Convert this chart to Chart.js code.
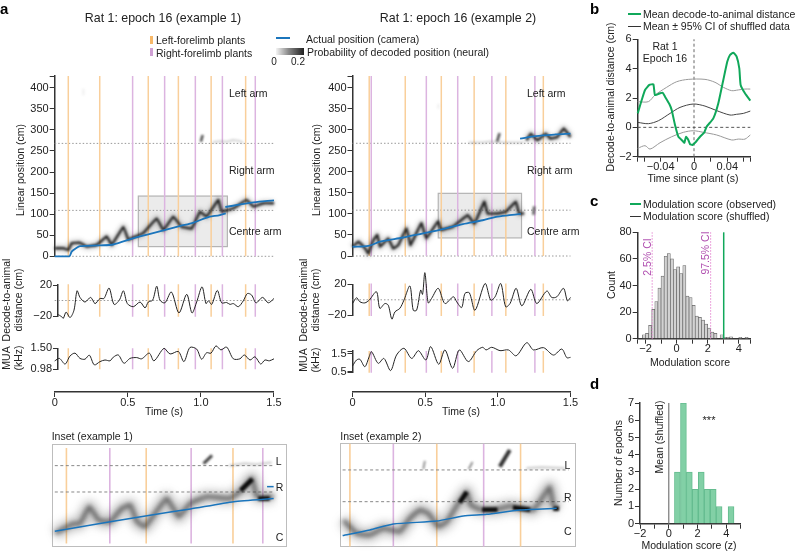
<!DOCTYPE html>
<html>
<head>
<meta charset="utf-8">
<style>
    body { margin: 0; background: #fff; font-family: "Liberation Sans", Arial, sans-serif; color: #222; }
    #page { position: relative; width: 797px; height: 551px; overflow: hidden; }
    #page canvas { position: absolute; left: 0; top: 0; }
    .txt { position: absolute; white-space: nowrap; line-height: 1; }
    .mark { position: absolute; }
</style>
<script src="https://cdn.jsdelivr.net/npm/chart.js@4/dist/chart.umd.min.js"></script>
</head>
<body>
<div id="page"></div>
<script>
// plant times (s)
const leftPlants1 = [0.093, 0.308, 0.64, 0.846, 1.07, 1.306];
const rightPlants1 = [0.533, 0.752, 0.962, 1.147, 1.372];
const leftPlants2 = [0.115, 0.363, 0.611, 0.837, 1.055, 1.313];
const rightPlants2 = [0.129, 0.508, 0.724, 0.959, 1.255];

// arm boundaries and grey boxes [t0, t1, pos0, pos1]
const armLines = [0, 109, 268];
const insetBox1 = [0.572, 1.181, 23, 143];
const insetBox2 = [0.59, 1.163, 43, 149];

// actual position, example 1
const actualTime1 = [0, 0.10, 0.116, 0.146, 0.173, 0.31, 0.40, 0.54, 0.64, 0.77, 0.86, 0.95, 1.04, 1.13, 1.17];
const actualPos1 = [0, 0, 11, 19, 24, 26, 28, 43, 52, 64, 72, 80, 92, 98, 102];
const actualTimeB1 = [1.167, 1.27, 1.36, 1.5];
const actualPosB1 = [117, 123, 128, 133];

// decoded position, example 1
const decodedTime1 = [0, 0.059, 0.093, 0.116, 0.173, 0.219, 0.287, 0.356, 0.39, 0.47, 0.504, 0.538, 0.606, 0.698, 0.743, 0.811, 0.868, 0.937, 0.994, 1.039, 1.119, 1.142, 1.222, 1.313, 1.359, 1.427, 1.5];
const decodedPos1 = [19, 19, 15, 31, 32, 23, 27, 47, 27, 70, 39, 45, 55, 90, 62, 94, 70, 66, 106, 94, 134, 106, 114, 134, 118, 126, 126];
const spikeTime1 = [1.0, 1.012];
const spikePos1 = [272, 288];
const faintTime1 = [1.08, 1.13, 1.18, 1.22, 1.26, 1.29];
const faintPos1 = [271, 273, 272, 276, 274, 270];
const ghostTime1 = [0.196, 0.196];
const ghostPos1 = [382, 398];

// actual position, example 2
const actualTime2 = [0, 0.109, 0.189, 0.349, 0.486, 0.6, 0.759, 0.896, 0.987, 1.078, 1.158];
const actualPos2 = [22, 24, 34, 44, 54, 62, 76, 85, 93, 97, 100];
const actualTimeB2 = [1.153, 1.261, 1.397, 1.5];
const actualPosB2 = [279, 285, 289, 291];

// decoded position, example 2
const decodedTime2 = [0, 0.041, 0.087, 0.109, 0.144, 0.171, 0.189, 0.246, 0.28, 0.315, 0.372, 0.399, 0.474, 0.508, 0.588, 0.611, 0.691, 0.736, 0.793, 0.839, 0.907, 0.93, 0.998, 1.055, 1.124, 1.147, 1.181];
const decodedPos2 = [22, 34, 18, 6, 38, 50, 22, 42, 18, 26, 66, 26, 78, 42, 82, 62, 70, 82, 97, 77, 129, 101, 101, 105, 129, 101, 101];
const decodedTimeB2 = [1.197, 1.226, 1.272, 1.329, 1.363, 1.409, 1.454, 1.5];
const decodedPosB2 = [275, 291, 275, 291, 279, 283, 303, 283];
const spikeTime2 = [0.995, 1.012];
const spikePos2 = [272, 292];
const blobTime2 = [1.245, 1.25];
const blobPos2 = [98, 118];
const faintTime2 = [0.8, 0.9, 0.95, 1.05, 1.13, 1.18];
const faintPos2 = [270, 270, 272, 270, 270, 270];
const ghostTime2 = [0.59, 0.59];
const ghostPos2 = [350, 362];

// decode-to-animal distance
const distTime1 = [0, 0.018, 0.048, 0.059, 0.078, 0.105, 0.132, 0.153, 0.173, 0.207, 0.246, 0.276, 0.31, 0.337, 0.372, 0.406, 0.442, 0.47, 0.497, 0.538, 0.584, 0.618, 0.64, 0.67, 0.698, 0.72, 0.754, 0.798, 0.85, 0.903, 0.939, 0.971, 1.008, 1.035, 1.051, 1.074, 1.112, 1.142, 1.176, 1.199, 1.222, 1.256, 1.29, 1.318, 1.347, 1.377, 1.422, 1.461, 1.5];
const distValue1 = [-20.2, -18, -21, -23, -15, -22, -12.5, 12.5, 4, -2, 4, -4, 2.6, 2.6, 16, -5, 0.4, 12.5, -4, -8, -2, -9.5, -2, 0.4, 18.5, 0.4, -3, 11, -16, 8, -16, -2, 17.6, -4, -0.4, -5, 13, -3, -2.6, -5, -4, -8, -0.4, 9, 7, -3, 4, -3, 2.6];
const distTime2 = [0, 0.028, 0.051, 0.085, 0.115, 0.165, 0.188, 0.223, 0.246, 0.271, 0.292, 0.326, 0.354, 0.395, 0.418, 0.441, 0.469, 0.482, 0.498, 0.521, 0.544, 0.59, 0.636, 0.694, 0.717, 0.751, 0.774, 0.804, 0.843, 0.912, 0.951, 0.981, 1.02, 1.054, 1.084, 1.126, 1.165, 1.227, 1.268, 1.337, 1.371, 1.406, 1.452, 1.479, 1.5];
const distValue2 = [-4.8, 2.6, -2.6, -4, -0.4, 10.4, -11, -4.8, -7, -25, -15.6, -11, -0.4, 17.8, -13.5, -13.5, 12.6, 7, 35, -4, 1.7, 14.8, -4.8, 3.9, -2.6, -10, 8.3, 9, -13.5, 21, -0.4, 3.9, 21, -9, -4.8, 14.8, -7.8, 13.5, -4.8, 11.3, 3, 3.9, 14.8, -1.3, 3];

// multi-unit activity
const muaTime1 = [0, 0.032, 0.071, 0.105, 0.139, 0.173, 0.207, 0.237, 0.271, 0.31, 0.344, 0.378, 0.401, 0.435, 0.474, 0.515, 0.561, 0.595, 0.647, 0.679, 0.748, 0.789, 0.846, 0.884, 0.925, 0.971, 1.005, 1.039, 1.069, 1.103, 1.137, 1.176, 1.222, 1.267, 1.297, 1.336, 1.37, 1.409, 1.438, 1.468, 1.5];
const muaValue1 = [1.187, 1.25, 1.11, 1.31, 1.38, 1.25, 1.23, 1.33, 1.09, 1.17, 1.21, 1.19, 1.28, 1.335, 1.13, 1.25, 1.27, 1.24, 1.38, 1.19, 1.5, 1.36, 1.42, 1.17, 1.52, 1.48, 1.23, 1.39, 1.38, 1.56, 1.46, 1.53, 1.24, 1.24, 1.335, 1.21, 1.29, 1.11, 1.21, 1.19, 1.24];
const muaTime2 = [0, 0.028, 0.051, 0.085, 0.115, 0.131, 0.177, 0.216, 0.262, 0.303, 0.354, 0.407, 0.453, 0.505, 0.538, 0.593, 0.636, 0.689, 0.735, 0.797, 0.855, 0.896, 0.919, 0.958, 1.015, 1.073, 1.126, 1.199, 1.245, 1.314, 1.383, 1.44, 1.475, 1.5];
const muaValue2 = [0.82, 1.16, 1.2, 0.78, 1.35, 1.63, 0.97, 1.25, 0.56, 1.44, 1.82, 1.25, 1.69, 1.16, 1.92, 0.92, 1.73, 0.69, 1.73, 1.07, 1.69, 1.88, 1.73, 1.88, 1.69, 1.73, 1.4, 2.14, 1.73, 1.86, 1.44, 1.78, 1.29, 1.31];

// insets, y in percent of the box height
const insetPlantsLeft1 = [0.64, 0.846, 1.07];
const insetPlantsRight1 = [0.752, 0.962, 1.147];
const insetArms1 = [79, 53.4];
const insetActualTime1 = [0.61, 0.753, 0.848, 0.96, 1.072, 1.175];
const insetActualPos1 = [15.2, 24.6, 30.4, 36.9, 44, 47.2];
const insetActualTimeB1 = [1.158, 1.175];
const insetActualPosB1 = [58.6, 58.6];
const insetDecTime1 = [0.611, 0.658, 0.675, 0.699, 0.723, 0.753, 0.783, 0.805, 0.822, 0.843, 0.878, 0.899, 0.93, 0.96, 1.003, 1.063, 1.093, 1.119, 1.132, 1.175];
const insetDecPos1 = [13.3, 22.6, 22.6, 39, 26.2, 24.6, 37.5, 40.8, 24.6, 19.7, 37.5, 47.2, 29.4, 42.4, 48.9, 47.2, 55.3, 66.7, 48.9, 48.9];
const insetDarkTime1 = [1.09, 1.12];
const insetDarkPos1 = [55, 66];
const insetDarkTimeB1 = [1.135, 1.165];
const insetDarkPosB1 = [47, 47];
const insetSpikeTime1 = [0.994, 1.016];
const insetSpikePos1 = [81, 89];
const insetFaintTime1 = [1.06, 1.1, 1.13, 1.17];
const insetFaintPos1 = [79, 81, 80, 82];

const insetPlantsLeft2 = [0.611, 0.837, 1.055];
const insetPlantsRight2 = [0.724, 0.959];
const insetArms2 = [74.3, 43.7];
const insetActualTime2 = [0.592, 0.663, 0.724, 0.837, 0.906, 0.967, 1.053, 1.149];
const insetActualPos2 = [11, 16.4, 22.2, 25, 29.9, 31.5, 35.7, 37.3];
const insetDecTime2 = [0.594, 0.628, 0.663, 0.698, 0.741, 0.767, 0.793, 0.815, 0.841, 0.863, 0.893, 0.915, 0.925, 0.949, 0.993, 1.028, 1.088, 1.105, 1.131, 1.14, 1.153];
const insetDecPos2 = [26, 13.2, 11.6, 18, 14.8, 27.7, 35.7, 32.5, 19.6, 24.4, 42.1, 53.4, 40.5, 36.3, 36.3, 39.5, 35.7, 43.7, 58.2, 40.5, 37.3];
const insetDarkTime2 = [0.897, 0.915];
const insetDarkPos2 = [43, 53];
const insetDarkTimeB2 = [0.955, 0.995];
const insetDarkPosB2 = [36, 36];
const insetDarkTimeC2 = [1.035, 1.08];
const insetDarkPosC2 = [38, 36];
const insetDarkTimeD2 = [1.14, 1.155];
const insetDarkPosD2 = [37, 37];
const insetSpikeTime2 = [1.001, 1.027];
const insetSpikePos2 = [77.5, 93.6];
const insetSmallTime2 = [0.802, 0.806];
const insetSmallPos2 = [75, 83];
const insetSmallTimeB2 = [0.92, 0.93];
const insetSmallPosB2 = [75, 82];
const insetFaintTime2 = [1.07, 1.11, 1.17];
const insetFaintPos2 = [76, 77, 76];

// panel b
const greenTime = [-0.0676, -0.0628, -0.0588, -0.0536, -0.0488, -0.0468, -0.0408, -0.0376, -0.0348, -0.0296, -0.0268, -0.0228, -0.0188, -0.0168, -0.0128, -0.0116, -0.0096, -0.0068, -0.0048, -0.002, 0.0024, 0.0072, 0.0124, 0.0152, 0.0232, 0.0292, 0.0352, 0.04, 0.0432, 0.0472, 0.0512, 0.0544, 0.056, 0.0612, 0.0676];
const greenValue = [0.95, 1.86, 2.55, 2.89, 2.93, 2.2, 2.32, 2.36, 2.09, 1.59, 1.18, 0.16, -0.64, -0.75, -0.98, -1.05, -0.64, -0.86, -1.14, -1.2, -0.98, -0.64, -0.34, 0.05, 0.61, 1.64, 3.23, 4.48, 4.93, 5.09, 4.82, 4.02, 2.89, 2.32, 1.82];
const upperTime = [-0.0676, -0.0548, -0.0468, -0.0328, -0.0208, -0.0068, 0.0132, 0.0252, 0.0352, 0.0452, 0.0532, 0.0612, 0.0676];
const upperValue = [1.75, 1.75, 2.2, 2.73, 3.11, 3.27, 3.27, 3.07, 2.73, 2.5, 2.55, 2.61, 2.61];
const meanTime = [-0.0676, -0.0548, -0.0428, -0.0288, -0.0168, -0.0008, 0.0132, 0.0272, 0.0432, 0.0512, 0.0592, 0.0676];
const meanValue = [0.34, 0.25, 0.45, 0.95, 1.36, 1.59, 1.45, 1.14, 0.84, 0.89, 0.95, 1.11];
const lowerTime = [-0.0676, -0.0588, -0.0528, -0.0408, -0.0268, -0.0128, -0.0008, 0.0112, 0.0272, 0.0452, 0.0532, 0.0612, 0.0676];
const lowerValue = [-1.43, -1.25, -1.48, -1.05, -0.64, -0.34, -0.23, -0.34, -0.52, -0.86, -0.8, -0.8, -0.52];

// panel c
const shuffledBins = [-2.1, -1.9, -1.7, -1.5, -1.3, -1.1, -0.9, -0.7, -0.5, -0.3, -0.1, 0.1, 0.3, 0.5, 0.7, 0.9, 1.1, 1.3, 1.5, 1.7, 1.9, 2.1, 2.3, 2.5, 2.7, 2.9, 3.1, 3.3, 3.5, 3.7, 3.9, 4.1, 4.3, 4.5];
const shuffledCounts = [3, 4, 10, 22, 28, 38, 47, 62, 64, 60, 52, 54, 49, 55, 32, 31, 25, 17, 16, 14, 11, 8, 5, 4, 0, 3, 1, 1, 1.5, 0, 0, 1, 0, 1];
const observedScore = 3.03;
const ciLow = -1.57;
const ciHigh = 2.19;

// panel d
const epochBins = [0.6, 1.02, 1.43, 1.84, 2.26, 2.67, 3.09, 3.5, 3.91, 4.33];
const epochCounts = [3, 7, 3, 2, 3, 2, 2, 1, 0, 1];

const orange = "#f9cf9b";
const purple = "#dcb4e0";
const blue = "#1b75bc";
const green = "#10a85a";
const page = document.getElementById("page");
const W = 797, H = 551;

const zip = (xs, ys) => xs.map((x, i) => ({ x: x, y: ys[i] }));

function label(str, x, y, opts) {
    opts = opts || {};
    const el = document.createElement("div");
    el.className = "txt";
    el.textContent = str;
    el.style.left = x + "px";
    el.style.top = y + "px";
    el.style.fontSize = (opts.size || 10.5) + "px";
    if (opts.color) el.style.color = opts.color;
    if (opts.bold) el.style.fontWeight = "bold";
    const ax = opts.center || opts.rot ? "-50%" : "0";
    el.style.transform = `translate(${ax},-50%)` + (opts.rot ? ` rotate(${opts.rot}deg)` : "");
    page.appendChild(el);
}

function mark(x, y, w, h, bg) {
    const el = document.createElement("div");
    el.className = "mark";
    el.style.cssText = `left:${x}px;top:${y}px;width:${w}px;height:${h}px;background:${bg}`;
    page.appendChild(el);
}

function line(points, color, width, extra) {
    return Object.assign({
        type: "scatter",
        data: points,
        showLine: true,
        pointRadius: 0,
        borderColor: color,
        backgroundColor: color,
        borderWidth: width,
        spanGaps: false,
        clip: false
    }, extra || {});
}

// vertical plant markers, one broken line per group
function plantLine(times, yMin, yMax, color, width) {
    const pts = [];
    times.forEach(t => {
        pts.push({ x: t, y: yMin }, { x: t, y: yMax }, { x: t, y: null });
    });
    return line(pts, color, width || 1.5);
}

function flatLine(xMin, xMax, y, color, dash, width) {
    return line([{ x: xMin, y: y }, { x: xMax, y: y }], color, width || 1, { borderDash: dash });
}

// blurred core and halo stand in for the probability cloud
function decoded(times, values) {
    const pts = zip(times, values);
    return [
        line(pts, "rgba(20,20,20,0.9)", 2.4, { blur: 0.9, tension: 0.06, borderJoinStyle: "round" }),
        line(pts, "rgba(70,70,70,0.28)", 6.5, { blur: 2.2, tension: 0.06, borderJoinStyle: "round" })
    ];
}

// softer version for the insets, dark stretches are added on top
function insetCloud(times, values) {
    const pts = zip(times, values);
    return [
        line(pts, "rgba(40,40,40,0.6)", 4, { blur: 2.2, tension: 0.1, borderJoinStyle: "round" }),
        line(pts, "rgba(80,80,80,0.35)", 13, { blur: 4, tension: 0.1, borderJoinStyle: "round" })
    ];
}

const darkPatch = (times, values, width) => line(zip(times, values), "#0c0c0c", width || 4.5, { blur: 1.1 });

const blurPlugin = {
    id: "blurPlugin",
    beforeDatasetDraw(chart, args) {
        const ds = chart.data.datasets[args.index];
        chart.ctx.save();
        if (ds.blur) chart.ctx.filter = `blur(${ds.blur}px)`;
    },
    afterDatasetDraw(chart) {
        chart.ctx.restore();
    }
};

// grey zoom box drawn through the scales
const boxPlugin = {
    id: "boxPlugin",
    beforeDatasetsDraw(chart, args, opts) {
        if (!opts.box) return;
        const b = opts.box;
        const x0 = chart.scales.x.getPixelForValue(b[0]);
        const x1 = chart.scales.x.getPixelForValue(b[1]);
        const y0 = chart.scales.y.getPixelForValue(b[2]);
        const y1 = chart.scales.y.getPixelForValue(b[3]);
        const ctx = chart.ctx;
        ctx.save();
        ctx.fillStyle = "rgba(130,130,130,0.16)";
        ctx.strokeStyle = "#b4b4b4";
        ctx.lineWidth = 1.2;
        ctx.fillRect(x0, y1, x1 - x0, y0 - y1);
        ctx.strokeRect(x0, y1, x1 - x0, y0 - y1);
        ctx.restore();
    }
};

const tickFont = { family: "'Liberation Sans'", size: 11 };

function axis(min, max, values, labels, size, isX) {
    return {
        type: "linear",
        min: min,
        max: max,
        offset: false,
        border: { color: "#333", width: 1.5 },
        grid: { offset: false, drawOnChartArea: false, drawTicks: true, tickLength: 5, tickColor: "#333", tickWidth: 1 },
        ticks: {
            font: tickFont,
            color: "#222",
            padding: isX ? -1 : 1,
            autoSkip: false,
            maxRotation: 0,
            minRotation: 0,
            callback: v => {
                const i = values.indexOf(v);
                return i >= 0 && labels[i] !== undefined ? labels[i] : "";
            }
        },
        afterBuildTicks: s => { s.ticks = values.map(v => ({ value: v })); },
        afterFit: s => {
            s.paddingLeft = s.paddingRight = s.paddingTop = s.paddingBottom = 0;
            if (isX) s.height = size; else s.width = size;
        }
    };
}

const hidden = (min, max) => ({ type: "linear", min: min, max: max, display: false });

function panel(box, datasets, xScale, yScale, pluginOpts) {
    const yw = yScale.display === false ? 0 : 40;
    const xh = xScale.display === false ? 0 : 24;
    const canvas = document.createElement("canvas");
    canvas.width = W;
    canvas.height = H;
    page.appendChild(canvas);
    return new Chart(canvas, {
        type: "scatter",
        data: { datasets: datasets },
        plugins: [blurPlugin, boxPlugin],
        options: {
            responsive: false,
            animation: false,
            events: [],
            layout: { padding: { left: box[0] - yw, top: box[1], right: W - box[2], bottom: H - box[3] - xh } },
            scales: { x: xScale, y: yScale },
            plugins: { legend: { display: false }, tooltip: { enabled: false }, boxPlugin: pluginOpts || {} }
        }
    });
}

// scales where ticks carry the text
const posTicks = [0, 50, 100, 150, 200, 250, 300, 350, 400, 428];
const posLabels = ["0", "50", "100", "150", "200", "250", "300", "350", "400", ""];

function exampleColumn(c) {
    // main decoded panel
    panel([c.x0, 76, c.x1, c.yBase], [
        line(zip(c.actualTime, c.actualPos), blue, 1.8, { tension: 0.3 }),
        line(zip(c.actualTimeB, c.actualPosB), blue, 1.8, { tension: 0.3 }),
        line(zip(c.ghostTime, c.ghostPos), "rgba(120,120,120,0.12)", 2, { blur: 0.8 }),
        ...c.extraDecoded,
        line(zip(c.spikeTime, c.spikePos), "#444", 2.4, { blur: 0.8 }),
        line(zip(c.faintTime, c.faintPos), "rgba(110,110,110,0.3)", 2, { blur: 0.9 }),
        ...decoded(c.decodedTime, c.decodedPos),
        plantLine(c.left, 0, 428, orange),
        plantLine(c.right, 0, 428, purple),
        ...armLines.map(a => flatLine(0, 1.5, a, "#999", [1.5, 2])),
    ], hidden(0, 1.5), axis(0, 428, posTicks, posLabels, 40), { box: c.box });

    // decode-to-animal distance
    panel([c.distX0, c.distTop, c.x1, c.distTop + 31], [
        line(zip(c.distTime, c.distValue), "#222", 1, { tension: 0.3 }),
        flatLine(0, 1.5, 0, "#999", [1.5, 2]),
        plantLine(c.left, -21, 21, orange),
        plantLine(c.right, -21, 21, purple)
    ], hidden(c.distMinT, 1.5), axis(-20, 20, [-20, 20], ["\u221220", "20"], 40));

    // multi-unit activity
    panel([c.distX0, c.muaTop, c.x1, c.muaBottom], [
        line(zip(c.muaTime, c.muaValue), "#222", 1, { tension: 0.3 }),
        plantLine(c.left, c.muaMin, c.muaMax, orange),
        plantLine(c.right, c.muaMin, c.muaMax, purple)
    ], hidden(c.distMinT, 1.5), axis(c.muaMin, c.muaMax, c.muaTicks, c.muaLabels, 40));

    // time axis
    panel([c.x0, 391, c.x1, 392], [], axis(0, 1.5, [0, 0.5, 1, 1.5], ["0", "0.5", "1.0", "1.5"], 24, true), hidden(0, 1));
}

exampleColumn({
    x0: 54.7, x1: 274, yBase: 256.3, distX0: 58, distMinT: 0.0226,
    distTop: 285, muaTop: 348.3, muaBottom: 369.3,
    left: leftPlants1, right: rightPlants1, box: insetBox1,
    actualTime: actualTime1, actualPos: actualPos1, actualTimeB: actualTimeB1, actualPosB: actualPosB1,
    decodedTime: decodedTime1, decodedPos: decodedPos1, extraDecoded: [],
    spikeTime: spikeTime1, spikePos: spikePos1, faintTime: faintTime1, faintPos: faintPos1,
    ghostTime: ghostTime1, ghostPos: ghostPos1,
    distTime: distTime1, distValue: distValue1, muaTime: muaTime1, muaValue: muaValue1,
    muaMin: 0.98, muaMax: 1.5, muaTicks: [0.98, 1.5], muaLabels: ["0.98", "1.50"]
});

exampleColumn({
    x0: 352.5, x1: 570.5, yBase: 256, distX0: 352.5, distMinT: 0,
    distTop: 284.3, muaTop: 351, muaBottom: 372.7,
    left: leftPlants2, right: rightPlants2, box: insetBox2,
    actualTime: actualTime2, actualPos: actualPos2, actualTimeB: actualTimeB2, actualPosB: actualPosB2,
    decodedTime: decodedTime2, decodedPos: decodedPos2,
    extraDecoded: [
        ...decoded(decodedTimeB2, decodedPosB2),
        line(zip(blobTime2, blobPos2), "#555", 2.5, { blur: 0.9 })
    ],
    spikeTime: spikeTime2, spikePos: spikePos2, faintTime: faintTime2, faintPos: faintPos2,
    ghostTime: ghostTime2, ghostPos: ghostPos2,
    distTime: distTime2, distValue: distValue2, muaTime: muaTime2, muaValue: muaValue2,
    muaMin: 0.44, muaMax: 1.67, muaTicks: [0.44, 0.5, 1.5, 1.67], muaLabels: ["", "0.5", "1.5", ""]
});

// insets
function insetBorder(x, y, w, h) {
    const el = document.createElement("div");
    el.className = "mark";
    el.style.cssText = `left:${x}px;top:${y}px;width:${w}px;height:${h}px;border:1.5px solid #bdbdbd;box-sizing:border-box`;
    page.appendChild(el);
}

insetBorder(51.7, 444, 235.5, 103);
panel([51.7, 444, 287.2, 547], [
    line(zip(insetActualTime1, insetActualPos1), blue, 1.5, { tension: 0.2 }),
    line(zip(insetActualTimeB1, insetActualPosB1), blue, 1.5),
    darkPatch(insetDarkTime1, insetDarkPos1),
    darkPatch(insetDarkTimeB1, insetDarkPosB1),
    line(zip(insetSpikeTime1, insetSpikePos1), "#444", 3, { blur: 1.2 }),
    line(zip(insetFaintTime1, insetFaintPos1), "rgba(110,110,110,0.3)", 2.5, { blur: 1 }),
    ...insetCloud(insetDecTime1, insetDecPos1),
    ...insetArms1.map(a => flatLine(0.61, 1.175, a, "#888", [3, 2.5])),
    plantLine(insetPlantsLeft1, 3.5, 96, orange, 1.6),
    plantLine(insetPlantsRight1, 3.5, 96, purple, 1.6)
], hidden(0.602, 1.21), hidden(0, 100));

insetBorder(340.3, 443.3, 236, 103.7);
panel([340.3, 443.3, 576.3, 547], [
    line(zip(insetActualTime2, insetActualPos2), blue, 1.5, { tension: 0.2 }),
    darkPatch(insetDarkTime2, insetDarkPos2),
    darkPatch(insetDarkTimeB2, insetDarkPosB2),
    darkPatch(insetDarkTimeC2, insetDarkPosC2),
    darkPatch(insetDarkTimeD2, insetDarkPosD2),
    line(zip(insetSpikeTime2, insetSpikePos2), "#333", 4, { blur: 1.3 }),
    line(zip(insetSmallTime2, insetSmallPos2), "#888", 1.8, { blur: 0.8 }),
    line(zip(insetSmallTimeB2, insetSmallPosB2), "#888", 1.8, { blur: 0.8 }),
    line(zip(insetFaintTime2, insetFaintPos2), "rgba(110,110,110,0.3)", 2.5, { blur: 1 }),
    ...insetCloud(insetDecTime2, insetDecPos2),
    ...insetArms2.map(a => flatLine(0.592, 1.18, a, "#888", [3, 2.5])),
    plantLine(insetPlantsLeft2, 0.5, 99.5, orange, 1.6),
    plantLine(insetPlantsRight2, 0.5, 99.5, purple, 1.6)
], hidden(0.586, 1.2), hidden(0, 100));

// panel b
panel([637.7, 39.3, 750.3, 156.7], [
    line(zip(greenTime, greenValue), green, 2, { tension: 0.15 }),
    line(zip(upperTime, upperValue), "#999", 1, { tension: 0.3 }),
    line(zip(meanTime, meanValue), "#444", 1, { tension: 0.3 }),
    line(zip(lowerTime, lowerValue), "#999", 1, { tension: 0.3 }),
    flatLine(-0.0676, 0.0676, 0, "#555", [3, 2.5]),
    line([{ x: 0, y: -2 }, { x: 0, y: 6 }], "#666", 1, { borderDash: [3, 2.5] })
],
    axis(-0.0676, 0.0676, [-0.0676, -0.06, -0.04, -0.02, 0, 0.02, 0.04, 0.06, 0.0676], ["", "", "\u22120.04", "", "0", "", "0.04", "", ""], 24, true),
    axis(-2, 6, [-2, 0, 2, 4, 6], ["\u22122", "0", "2", "4", "6"], 40));

// panel c
panel([637.7, 232.3, 750.3, 338.7], [
    line([{ x: observedScore, y: 0 }, { x: observedScore, y: 80 }], green, 1.5),
    line([{ x: ciLow, y: 0 }, { x: ciLow, y: 80 }], "#e58ad2", 1, { borderDash: [1.5, 1.5] }),
    line([{ x: ciHigh, y: 0 }, { x: ciHigh, y: 80 }], "#e58ad2", 1, { borderDash: [1.5, 1.5] }),
    {
        type: "bar",
        data: zip(shuffledBins, shuffledCounts),
        backgroundColor: "#d2d2d2",
        borderColor: "#666",
        borderWidth: 0.7,
        barPercentage: 1,
        categoryPercentage: 1
    }
],
    axis(-2.5, 4.74, [-2.5, -2, -1, 0, 1, 2, 3, 4, 4.74], ["", "\u22122", "", "0", "", "2", "", "4", ""], 24, true),
    axis(0, 80, [0, 20, 40, 60, 80], ["0", "20", "40", "60", "80"], 40));

// panel d, no tick closer than a bin width or the bars shrink
panel([640, 403, 740.7, 523.7], [
    line([{ x: 0, y: 0 }, { x: 0, y: 7 }], "#777", 1.2),
    {
        type: "bar",
        data: zip(epochBins, epochCounts),
        backgroundColor: "#82d0a6",
        borderColor: "#64bc8f",
        borderWidth: 1,
        barPercentage: 1,
        categoryPercentage: 1
    }
],
    axis(-2, 5, [-2, -1, 0, 1, 2, 3, 4, 5], ["\u22122", "", "0", "", "2", "", "4", ""], 24, true),
    axis(0, 7, [0, 1, 2, 3, 4, 5, 6, 7], ["0", "1", "2", "3", "4", "5", "6", "7"], 40));

// panel letters and titles
label("a", 0, 8, { size: 15, bold: true, color: "#000" });
label("b", 590, 8, { size: 15, bold: true, color: "#000" });
label("c", 590, 200, { size: 15, bold: true, color: "#000" });
label("d", 590, 383, { size: 15, bold: true, color: "#000" });
label("Rat 1: epoch 16 (example 1)", 163, 18, { size: 12.4, center: true });
label("Rat 1: epoch 16 (example 2)", 458, 18, { size: 12.4, center: true });

// legend for a
mark(150, 36, 2.5, 8, "#f7b869");
mark(150, 48, 2.5, 8, "#cfa0d4");
label("Left-forelimb plants", 156, 40, { size: 10.5 });
label("Right-forelimb plants", 156, 52.5, { size: 10.5 });
mark(276, 37, 14, 2.2, blue);
mark(276, 48, 28, 6.5, "linear-gradient(to right,#f4f4f4,#888 45%,#222)");
label("Actual position (camera)", 306, 39, { size: 10.5 });
label("Probability of decoded position (neural)", 307, 52, { size: 10.5 });
label("0", 274, 62, { size: 10, center: true });
label("0.2", 298, 62, { size: 10, center: true });

// texts inside a
label("Left arm", 229, 93);
label("Right arm", 229, 170);
label("Centre arm", 229, 231);
label("Left arm", 527, 93);
label("Right arm", 527, 170);
label("Centre arm", 527, 231);

// axis titles for a
label("Linear position (cm)", 20, 170, { rot: -90 });
label("Decode-to-animal", 6, 300, { rot: -90 });
label("distance (cm)", 18, 300, { rot: -90 });
label("MUA", 6, 358, { rot: -90 });
label("(kHz)", 18, 358, { rot: -90 });
label("Time (s)", 164, 411, { center: true });
label("Linear position (cm)", 316, 170, { rot: -90 });
label("Decode-to-animal", 303, 300, { rot: -90 });
label("distance (cm)", 315, 300, { rot: -90 });
label("MUA", 303, 360, { rot: -90 });
label("(kHz)", 315, 360, { rot: -90 });
label("Time (s)", 461, 411, { center: true });

// inset texts
label("Inset (example 1)", 51.7, 436);
label("L", 275.7, 461, { size: 10.5 });
label("R", 275.7, 487, { size: 10.5 });
label("C", 275.7, 537, { size: 10.5 });
label("Inset (example 2)", 340.3, 436);
label("L", 564.5, 465, { size: 10.5 });
label("R", 564, 497, { size: 10.5 });
label("C", 564, 531, { size: 10.5 });

// panel b texts
mark(628, 13.2, 13, 1.8, green);
mark(628, 25.5, 13, 1.2, "#333");
label("Mean decode-to-animal distance", 643, 14);
label("Mean \u00b1 95% CI of shuffled data", 643, 26);
label("Rat 1", 665, 46, { center: true });
label("Epoch 16", 665, 58, { center: true });
label("Decode-to-animal distance (cm)", 610, 97, { rot: -90 });
label("Time since plant (s)", 693, 178, { center: true });

// panel c texts
mark(630, 203.3, 11, 1.5, green);
mark(630, 215.6, 11, 1.2, "#333");
label("Modulation score (observed)", 643, 204);
label("Modulation score (shuffled)", 643, 216);
label("2.5% CI", 646.7, 257, { rot: -90, color: "#b04fb0" });
label("97.5% CI", 705, 253, { rot: -90, color: "#b04fb0" });
label("Count", 611, 285, { rot: -90 });
label("Modulation score", 690, 362, { center: true });

// panel d texts
label("Mean (shuffled)", 659, 437, { rot: -90 });
label("***", 709, 420, { center: true, size: 11 });
label("Number of epochs", 618, 463, { rot: -90 });
label("Modulation score (z)", 689, 545, { center: true });
</script>
</body>
</html>
